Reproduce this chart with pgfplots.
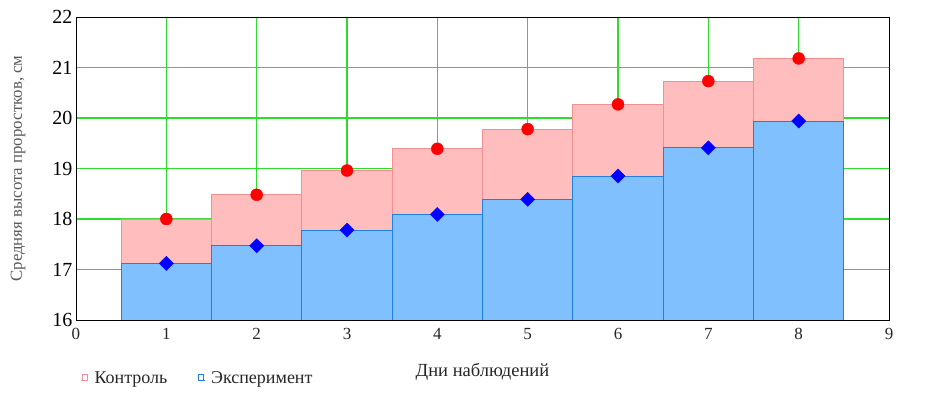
\documentclass[border=0pt]{standalone}
\usepackage{pgfplots}
\pgfplotsset{compat=1.18}
\usepackage{fontspec}
\setmainfont{Liberation Serif}
\definecolor{pinkfill}{HTML}{FFBDBD}
\definecolor{pinkedge}{HTML}{F09090}
\definecolor{bluefill}{HTML}{80C0FF}
\definecolor{blueedge}{HTML}{2080E0}
\definecolor{gridgreen}{HTML}{2EDC2E}
\begin{document}
\begin{tikzpicture}
\begin{axis}[
  scale only axis, width=813bp, height=303bp,
  xmin=0, xmax=9, ymin=16, ymax=22,
  xtick={1,...,8}, xticklabels={1,2,3,4,5,6,7,8},
  ytick={17,...,21}, yticklabels={17,18,19,20,21},
  extra x ticks={0,9}, extra x tick labels={0,9},
  extra y ticks={16,22}, extra y tick labels={16,22},
  extra tick style={grid=none},
  major tick length=0pt,
  grid=major,
  major grid style={gridgreen, line width=1.1pt},
  axis line style={black, line width=0.9pt},
  xticklabel style={font=\fontsize{17bp}{20bp}\selectfont, text=black!85, yshift=-5bp},
  yticklabel style={font=\fontsize{20bp}{24bp}\selectfont, text=black},
  xlabel={Дни наблюдений},
  ylabel={Средняя высота проростков, см},
  xlabel style={at={(axis description cs:0.5,-0.172)}, anchor=center, font=\fontsize{18.5bp}{21bp}\selectfont, text=black!85},
  ylabel style={at={(axis description cs:-0.0713,0.5)}, anchor=center, font=\fontsize{16.8bp}{19bp}\selectfont, text=black!65},
  legend style={at={(axis description cs:0.002,-0.191)}, anchor=west, draw=none, fill=none,
    font=\fontsize{18bp}{21bp}\selectfont, text=black!85, legend columns=2,
    /tikz/every odd column/.append style={column sep=4bp},
    /tikz/every even column/.append style={column sep=28bp}},
  legend cell align=left,
]
\addplot[ybar, bar width=1, bar shift=0pt, fill=pinkfill, draw=pinkedge, line width=0.8pt, forget plot]
  coordinates {(1,18.00) (2,18.48) (3,18.96) (4,19.39) (5,19.78) (6,20.27) (7,20.73) (8,21.18)};
\addplot[ybar, bar width=1, bar shift=0pt, fill=bluefill, draw=blueedge, line width=0.8pt, forget plot]
  coordinates {(1,17.12) (2,17.47) (3,17.78) (4,18.09) (5,18.39) (6,18.85) (7,19.41) (8,19.94)};
\addplot[only marks, mark=*, mark size=6bp, color=red, forget plot]
  coordinates {(1,18.00) (2,18.48) (3,18.96) (4,19.39) (5,19.78) (6,20.27) (7,20.73) (8,21.18)};
\addplot[only marks, mark=square*, mark size=5bp, mark options={rotate=45}, color=blue, forget plot]
  coordinates {(1,17.12) (2,17.47) (3,17.78) (4,18.09) (5,18.39) (6,18.85) (7,19.41) (8,19.94)};
\addlegendimage{legend image code/.code={\draw[pinkedge, line width=0.8pt] (0bp,-3bp) -- (0bp,3bp) -- (5bp,3bp) -- (5bp,-3bp); \draw[pinkedge, line width=0.8pt] (-1bp,-3bp) -- (6bp,-3bp);}}
\addlegendentry{Контроль}
\addlegendimage{legend image code/.code={\draw[blueedge, line width=0.8pt] (0bp,-3bp) -- (0bp,3bp) -- (5bp,3bp) -- (5bp,-3bp); \draw[blueedge, line width=0.8pt] (-1bp,-3bp) -- (6bp,-3bp);}}
\addlegendentry{Эксперимент}
\coordinate (sw) at (rel axis cs:0,0);
\coordinate (ne) at (rel axis cs:1,1);
\end{axis}
\pgfresetboundingbox
\path[use as bounding box] ([xshift=-76bp,yshift=-78bp]sw) rectangle ([xshift=45bp,yshift=17bp]ne);
\end{tikzpicture}
\end{document}
